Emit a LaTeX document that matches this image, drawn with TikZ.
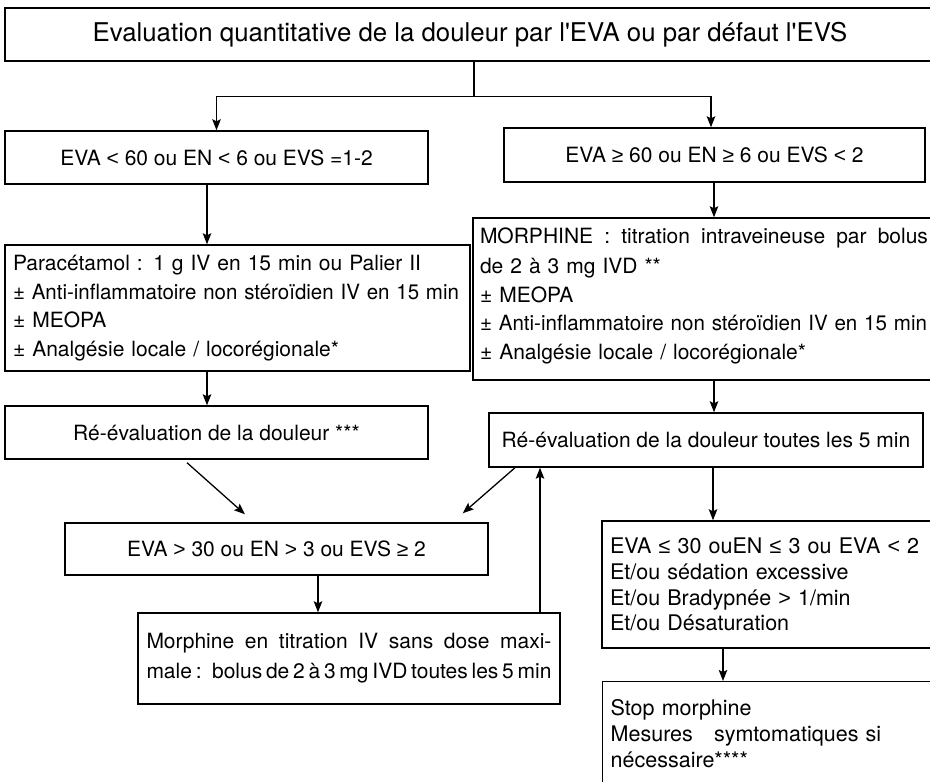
\documentclass[tikz,border=0pt]{standalone}
\usepackage{fontspec}
\usepackage{graphicx}
\setmainfont{TeX Gyre Heros}
\newfontfamily\relfont{Liberation Sans}
\usetikzlibrary{arrows.meta}
\newcommand\fitline[2]{\resizebox{#1}{\height}{#2}}
\newcommand\sLT{{\relfont <}}
\newcommand\sGT{{\relfont >}}
\newcommand\sGE{{\relfont ≥}}
\newcommand\sLE{{\relfont ≤}}
\begin{document}
\begin{tikzpicture}[x=1pt,y=-1pt,
  box/.style={draw, line width=1.4pt, rectangle, inner sep=0pt, font=\fontsize{21}{28.5}\selectfont},
  lbox/.style={box, align=left},
  big/.style={font=\fontsize{21.5}{25.8}\selectfont},
  arr/.style={-{Stealth[length=11pt,width=8.5pt,inset=2pt]}, line width=1.3pt},
  ln/.style={line width=1.3pt}]
\useasboundingbox (0,0) rectangle (930,782);

\node[box, minimum width=930, minimum height=53, font=\fontsize{25.8}{30}\selectfont] (T) at (470,34.5)
  {Evaluation quantitative de la douleur par l\textquotesingle EVA ou par défaut l\textquotesingle EVS};

\node[box, minimum width=423, minimum height=53] (L1) at (216.5,157.5) {EVA \sLT{} 60 ou EN \sLT{} 6 ou EVS =1-2};
\node[box, minimum width=421, minimum height=54] (R1) at (714.5,155) {EVA \sGE{} 60 ou EN \sGE{} 6 ou EVS \sLT{} 2};

\node[lbox, text width=449, inner xsep=8, minimum height=126] (L2) at (237.5,308)
  {Paracétamol : 1 g IV en 15 min ou Palier II\\
   \fitline{446pt}{± Anti-inflammatoire non stéroïdien IV en 15 min}\\
   ± MEOPA\\
   ± Analgésie locale / locorégionale*};

\node[lbox, text width=448, minimum width=462, minimum height=162] (R2) at (704,299)
  {\hbox to 448pt{MORPHINE \hfill: \hfill titration \hfill intraveineuse \hfill par \hfill bolus}\\[1.5pt]
   de 2 à 3 mg IVD **\\
   ± MEOPA\\
   \fitline{447pt}{± Anti-inflammatoire non stéroïdien IV en 15 min}\\
   ± Analgésie locale / locorégionale*\rule[-11pt]{0pt}{0pt}};

\node[box, minimum width=423, minimum height=53] (L3) at (216.5,432.5) {Ré-évaluation de la douleur ***};
\node[box, minimum width=434, minimum height=54] (R3) at (706,440) {Ré-évaluation de la douleur toutes les 5 min};

\node[box, minimum width=423, minimum height=52] (M1) at (276.5,549) {EVA \sGT{} 30 ou EN \sGT{} 3 ou EVS \sGE{} 2};

\node[lbox, text width=405, minimum width=422, minimum height=91, font=\fontsize{21}{30}\selectfont] (M2) at (349,658.5)
  {\hbox to 405pt{Morphine \hfill en \hfill titration \hfill IV \hfill sans \hfill dose \hfill maxi-}\\
   \hbox to 405pt{\spaceskip=0.15em plus 1fil\relax male : bolus de 2 à 3 mg IVD toutes les 5 min}};

\node[lbox, big, text width=317, inner xsep=8, minimum height=127] (R4) at (768.5,584.5)
  {EVA \sLE{} 30 ouEN \sLE{} 3 ou EVA \sLT{} 2\\
   Et/ou sédation excessive\\
   Et/ou Bradypnée \sGT{} 1/min\\
   Et/ou Désaturation};

\node[lbox, big, text width=317, inner xsep=8, inner ysep=18, text depth=90, anchor=north west] (R5) at (602,681)
  {Stop morphine\\
   Mesures\hspace{0.65em} symtomatiques si\\
   nécessaire****};

% connectors
\draw[ln] ([xshift=4]T.south) -- ++(0,35) coordinate (J);
\draw[arr] (J) -| (L1.north);
\draw[arr] (J) -| ([xshift=-3.5]R1.north);
\draw[arr] ([xshift=-9.5]L1.south) -- ([xshift=-9.5]L1.south |- L2.north);
\draw[arr] ([xshift=-0.5]R1.south) -- ([xshift=-0.5]R1.south |- R2.north);
\draw[arr] ([xshift=-30.5]L2.south) -- ([xshift=-30.5]L2.south |- L3.north);
\draw[arr] ([xshift=10]R2.south) -- ([xshift=10]R2.south |- R3.north);
\draw[arr] ([xshift=-29.5,yshift=-3]L3.south) -- ([xshift=-31.5,yshift=8]M1.north);
\draw[arr] ([xshift=-191]R3.south) -- ([xshift=-26,yshift=9]M1.north east);
\draw[arr] ([xshift=41.5]M1.south) -- ([xshift=41.5]M1.south |- M2.north);
\draw[arr] ([xshift=191]M2.north) -- ([xshift=191]M2.north |- R3.south);
\draw[arr] ([xshift=7]R3.south) -- ([xshift=7]R3.south |- R4.north);
\draw[arr] ([xshift=-45.5]R4.south) -- ([xshift=-45.5]R4.south |- R5.north);
\end{tikzpicture}
\end{document}
